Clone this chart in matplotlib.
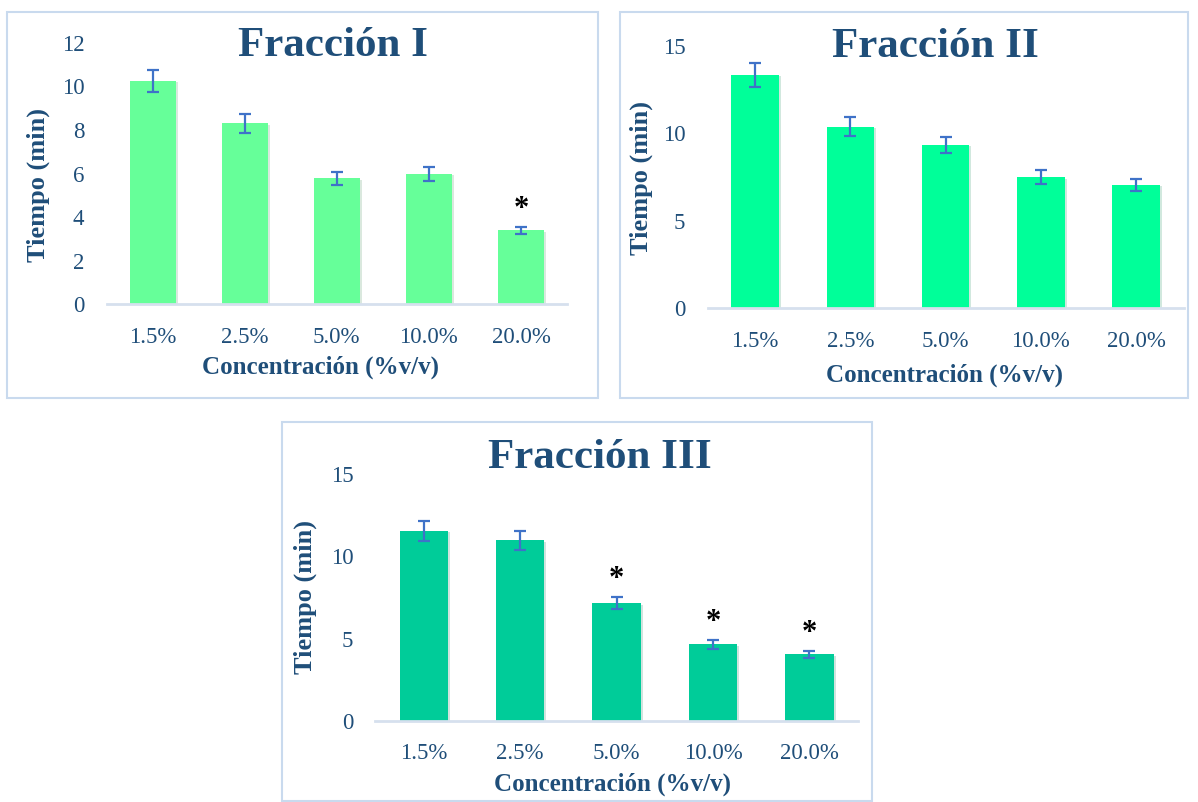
import matplotlib
matplotlib.use("Agg")
import matplotlib.pyplot as plt
import matplotlib.patheffects as pe
from matplotlib.patches import Rectangle

# ---------------------------
# Data
# ---------------------------
conc_labels = ["1.5%", "2.5%", "5.0%", "10.0%", "20.0%"]

frac1_mean = [10.24, 8.30, 5.78, 5.98, 3.39]
frac1_err = [0.50, 0.42, 0.30, 0.33, 0.17]
frac1_star = [4]

frac2_mean = [13.33, 10.38, 9.33, 7.49, 7.05]
frac2_err = [0.70, 0.53, 0.48, 0.40, 0.36]
frac2_star = []

frac3_mean = [11.55, 10.98, 7.15, 4.65, 4.04]
frac3_err = [0.60, 0.57, 0.38, 0.26, 0.22]
frac3_star = [2, 3, 4]

W, H = 1198, 802
NAVY = "#1F4E79"
ERR = "#3F72C8"
SERIF = ["Liberation Serif", "DejaVu Serif"]

fig = plt.figure(figsize=(W / 100, H / 100), dpi=100)


def box(x0, y0, x1, y1):
    # pixel box -> figure fraction [left, bottom, width, height]
    return [x0 / W, 1 - y1 / H, (x1 - x0) / W, (y1 - y0) / H]


def panel(ax_px, frame_px, means, errs, stars, color, ymax, ticks, title,
          title_xy, ylab_xy, xlab_xy, star_h):
    # light frame round each panel
    fx0, fy0, fx1, fy1 = frame_px
    fig.patches.append(Rectangle((fx0 / W, 1 - fy1 / H), (fx1 - fx0) / W,
                                 (fy1 - fy0) / H, transform=fig.transFigure,
                                 fill=False, edgecolor="#C9DAEE", lw=1.5))
    ax = fig.add_axes(box(*ax_px))
    x = range(len(conc_labels))
    bars = ax.bar(x, means, width=0.5, color=color, zorder=2)
    for b in bars:
        b.set_path_effects([pe.SimplePatchShadow(offset=(1.5, -1.0),
                                                 alpha=0.18, rho=0.5),
                            pe.Normal()])
    ax.errorbar(x, means, yerr=errs, fmt="none", ecolor=ERR, elinewidth=1.6,
                capsize=4.5, capthick=1.6, zorder=3)
    for i in stars:
        ax.text(i, means[i] + errs[i] + star_h, "*", ha="center", va="center",
                fontsize=22, fontweight="bold", color="black",
                family=SERIF)
    ax.set_xlim(-0.5, len(conc_labels) - 0.5)
    ax.set_ylim(0, ymax)
    ax.set_yticks(ticks)
    ax.set_xticks(list(x))
    ax.set_xticklabels(conc_labels)
    for s in ["top", "right", "left"]:
        ax.spines[s].set_visible(False)
    ax.spines["bottom"].set_color("#D6E0EE")
    ax.spines["bottom"].set_linewidth(2)
    ax.tick_params(axis="both", length=0, labelsize=16.5, labelcolor=NAVY)
    ax.tick_params(axis="y", pad=16)
    ax.tick_params(axis="x", pad=16)
    for lbl in ax.get_xticklabels() + ax.get_yticklabels():
        lbl.set_family(SERIF)
    fig.text(title_xy[0] / W, 1 - title_xy[1] / H, title, ha="center",
             va="center", fontsize=31, fontweight="bold", color=NAVY,
             family=SERIF)
    fig.text(ylab_xy[0] / W, 1 - ylab_xy[1] / H, "Tiempo (min)", rotation=90,
             ha="center", va="center", fontsize=19, fontweight="bold",
             color=NAVY, family=SERIF)
    fig.text(xlab_xy[0] / W, 1 - xlab_xy[1] / H, "Concentración (%v/v)",
             ha="center", va="center", fontsize=18, fontweight="bold",
             color=NAVY, family=SERIF)
    return ax


panel((106.5, 42.7, 567, 304.3), (7, 12, 598, 398), frac1_mean, frac1_err,
      frac1_star, "#66FF99", 12, [0, 2, 4, 6, 8, 10, 12], "Fracción I",
      (333, 46), (38, 185), (320, 367), 0.8)

panel((707.5, 45.7, 1183.7, 308.3), (620, 12, 1188, 398), frac2_mean,
      frac2_err, frac2_star, "#00FF99", 15, [0, 5, 10, 15], "Fracción II",
      (935, 47), (641, 178), (944, 375), 1.0)

panel((375.4, 474.3, 857.7, 720.7), (282, 422, 872, 801), frac3_mean,
      frac3_err, frac3_star, "#00CC99", 15, [0, 5, 10, 15], "Fracción III",
      (600, 458), (305, 597), (612, 784), 1.05)

fig.savefig("out.png", dpi=100)
